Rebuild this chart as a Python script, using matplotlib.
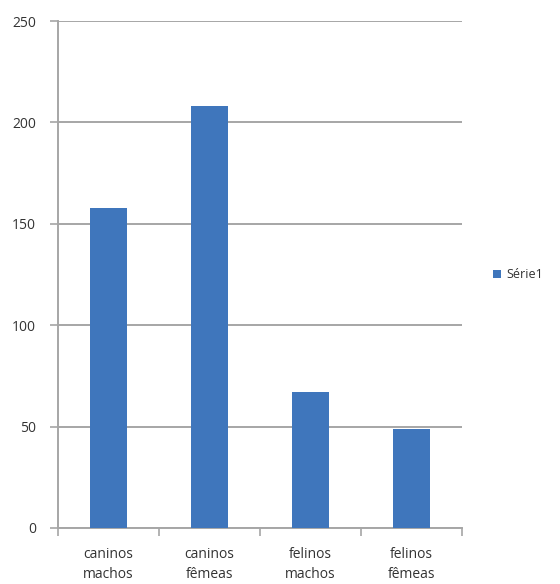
import matplotlib
matplotlib.use("Agg")
import matplotlib.pyplot as plt

categorias = ["caninos\nmachos", "caninos\nfêmeas", "felinos\nmachos", "felinos\nfêmeas"]
valores = [158, 208, 67, 49]
serie = "Série1"

plt.rcParams['font.family'] = ['Open Sans', 'DejaVu Sans']

fig = plt.figure(figsize=(5.6, 5.84), dpi=100)
ax = fig.add_axes([0.1036, 0.0959, 0.7214, 0.868])

x = range(len(valores))
ax.bar(x, valores, width=0.37, color="#3F76BC", label=serie, zorder=3)

ax.set_xlim(-0.5, len(valores) - 0.5)
ax.set_ylim(0, 250)
ax.set_yticks(range(0, 251, 50))
ax.yaxis.grid(True, color="#A6A6A6", linewidth=1.4, zorder=0)

# category boundaries carry the tick marks, labels sit in the middle
ax.set_xticks([i + 0.5 for i in range(-1, len(valores))], minor=False)
ax.set_xticklabels([])
ax.set_xticks(list(x), minor=True)
ax.set_xticklabels(categorias, minor=True, fontsize=10, color="#333333", linespacing=1.45)
ax.tick_params(axis="x", which="minor", length=0, pad=14)
ax.tick_params(axis="x", which="major", length=6, color="#A6A6A6", width=1.2)
ax.tick_params(axis="y", length=6, color="#A6A6A6", width=1.2, labelsize=10, labelcolor="#333333", pad=10)

for s in ["top", "right"]:
    ax.spines[s].set_visible(False)
for s in ["left", "bottom"]:
    ax.spines[s].set_color("#A6A6A6")
    ax.spines[s].set_linewidth(1.4)

ax.legend(loc="center left", bbox_to_anchor=(1.05, 0.5), frameon=False,
          fontsize=9, handlelength=0.6, handleheight=0.6, handletextpad=0.4,
          labelcolor="#333333")

fig.savefig("out.png", dpi=100)
